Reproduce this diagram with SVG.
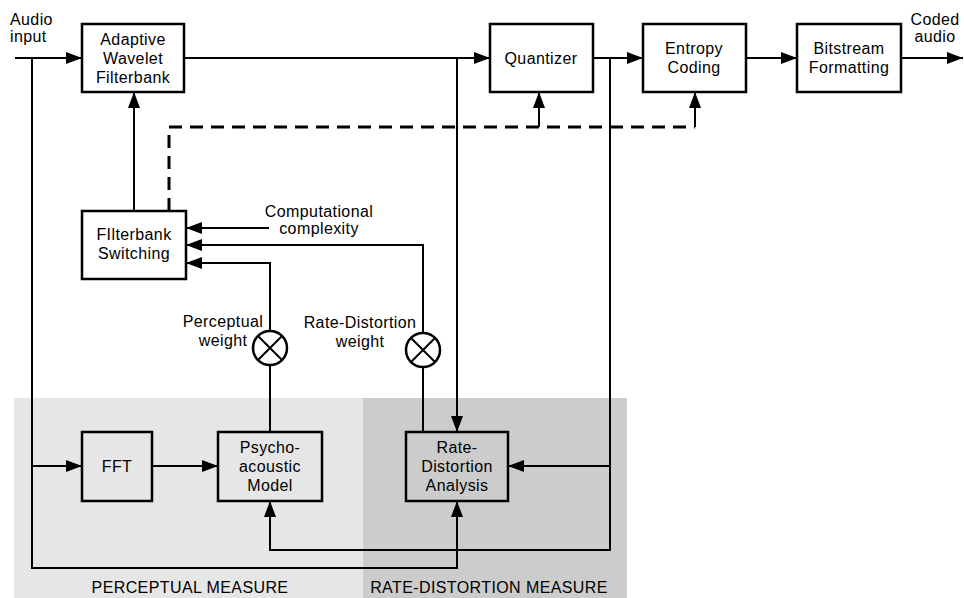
<svg xmlns="http://www.w3.org/2000/svg" width="964" height="598" viewBox="0 0 964 598">
<defs>
<style>
text{font-family:"Liberation Sans",Arial,sans-serif;font-size:16px;fill:#000;letter-spacing:0.4px;}
.c{text-anchor:middle;}
.box{fill:none;stroke:#000;stroke-width:2.5;}
.ln{fill:none;stroke:#000;stroke-width:2;}
.dash{fill:none;stroke:#000;stroke-width:3;stroke-dasharray:13 8;}
.arr{marker-end:url(#ah);}
</style>
<marker id="ah" markerUnits="userSpaceOnUse" markerWidth="16" markerHeight="12" refX="16" refY="6" orient="auto">
<path d="M0,0 L16,6 L0,12 z" fill="#000"/>
</marker>
</defs>
<rect x="14" y="398" width="349" height="200" fill="#e6e6e6"/>
<rect x="363" y="398" width="264" height="200" fill="#cccccc"/>
<text class="c" x="190" y="593">PERCEPTUAL MEASURE</text>
<text class="c" x="489" y="593">RATE-DISTORTION MEASURE</text>
<g id="connectors">
<path class="ln arr" d="M15,58 H82"/>
<path class="ln arr" d="M32,58 V568 H457 V501"/>
<path class="ln arr" d="M32,466 H82"/>
<path class="ln arr" d="M152,466 H218"/>
<path class="ln arr" d="M184,58 H490"/>
<path class="ln arr" d="M457,58 V432"/>
<path class="ln arr" d="M593,58 H643"/>
<path class="ln arr" d="M610,58 V550 H270 V501"/>
<path class="ln arr" d="M610,466 H508"/>
<path class="ln arr" d="M746,58 H797"/>
<path class="ln arr" d="M901,58 H963"/>
<path class="ln arr" d="M134,211 V92"/>
<path class="dash" d="M169,211 V127 H695"/>
<path class="ln arr" d="M539,127 V92"/>
<path class="ln arr" d="M695,127 V92"/>
<path class="ln" d="M270,432 V365"/>
<path class="ln arr" d="M270,331 V263 H186"/>
<path class="ln" d="M423,432 V367"/>
<path class="ln arr" d="M423,333 V245 H186"/>
<path class="ln arr" d="M269,228 H186"/>
</g>
<text x="10" y="25">Audio</text>
<text x="10" y="42">input</text>
<text class="c" x="935" y="25">Coded</text>
<text class="c" x="935" y="42">audio</text>
<text class="c" x="319" y="217">Computational</text>
<text class="c" x="319" y="234">complexity</text>
<text class="c" x="223" y="327">Perceptual</text>
<text class="c" x="223" y="346">weight</text>
<text class="c" x="360" y="328">Rate-Distortion</text>
<text class="c" x="360" y="347">weight</text>
<g id="awf">
<rect class="box" x="82" y="24" width="102" height="68"/>
<text class="c" x="133" y="45">Adaptive</text>
<text class="c" x="133" y="64">Wavelet</text>
<text class="c" x="133" y="83">Filterbank</text>
</g>
<g id="quantizer">
<rect class="box" x="490" y="24" width="103" height="68"/>
<text class="c" x="541" y="64">Quantizer</text>
</g>
<g id="entropy">
<rect class="box" x="643" y="24" width="103" height="68"/>
<text class="c" x="694" y="54">Entropy</text>
<text class="c" x="694" y="73">Coding</text>
</g>
<g id="bitstream">
<rect class="box" x="797" y="24" width="104" height="68"/>
<text class="c" x="849" y="54">Bitstream</text>
<text class="c" x="849" y="73">Formatting</text>
</g>
<g id="fbswitch">
<rect class="box" x="82" y="211" width="104" height="68"/>
<text class="c" x="134" y="240">FIlterbank</text>
<text class="c" x="134" y="259">Switching</text>
</g>
<g id="mult1">
<circle cx="270" cy="348" r="17" fill="#fff" stroke="#000" stroke-width="2.5"/>
<path class="ln" d="M258,336 L282,360 M282,336 L258,360"/>
</g>
<g id="mult2">
<circle cx="423" cy="350" r="17" fill="#fff" stroke="#000" stroke-width="2.5"/>
<path class="ln" d="M411,338 L435,362 M435,338 L411,362"/>
</g>
<g id="fft">
<rect class="box" x="82" y="432" width="70" height="69"/>
<text class="c" x="117" y="472">FFT</text>
</g>
<g id="psycho">
<rect class="box" x="218" y="432" width="104" height="69"/>
<text class="c" x="270" y="453">Psycho-</text>
<text class="c" x="270" y="472">acoustic</text>
<text class="c" x="270" y="491">Model</text>
</g>
<g id="rda">
<rect class="box" x="406" y="432" width="102" height="69"/>
<text class="c" x="457" y="453">Rate-</text>
<text class="c" x="457" y="472">Distortion</text>
<text class="c" x="457" y="491">Analysis</text>
</g>
</svg>
